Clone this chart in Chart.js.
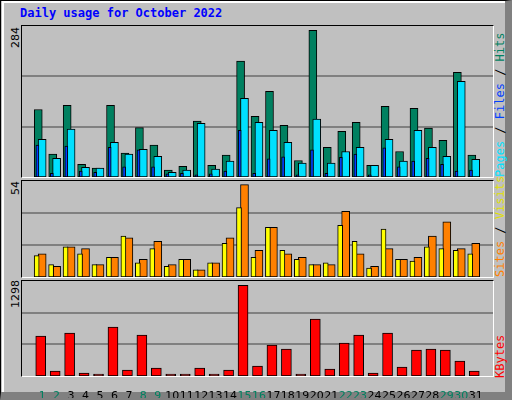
<!DOCTYPE html>
<html>
<head>
<meta charset="utf-8">
<script src="https://cdn.jsdelivr.net/npm/chart.js@4.4.0/dist/chart.umd.min.js"></script>
<style>
  body { margin: 0; background: #c0c0c0; }
  #frame { position: absolute; left: 0; top: 0; width: 512px; height: 400px; background: #c0c0c0;
           border-left: 1px solid #000; border-top: 1px solid #000; border-right: 7px solid #808080; border-bottom: 8px solid #808080;
           box-sizing: border-box; font-family: "DejaVu Sans Mono", monospace; }
  #inner { position: absolute; left: 1px; top: 0; right: 0; bottom: 0; border-left: 2px solid #fff; border-top: 2px solid #fff; }
  .panel { position: absolute; left: 20px; width: 471px; border-top: 1px solid #000; border-left: 1px solid #000;
           border-right: 1px solid #fff; border-bottom: 1px solid #fff; }
  .panel canvas { position: absolute; left: 0; top: 0; }
  .rot { position: absolute; transform-origin: 0 0; transform: rotate(-90deg); white-space: nowrap; font-size: 12px; line-height: 13px; }
  #title { position: absolute; left: 19px; top: 5px; color: #0000ff; font-weight: bold; font-size: 12px; }
</style>
</head>
<body>
<div id="frame"><div id="inner"></div>
  <div id="title">Daily usage for October 2022</div>
  <div class="panel" style="top:24px;height:151px"><canvas id="c1"></canvas></div>
  <div class="panel" style="top:179px;height:96px"><canvas id="c2"></canvas></div>
  <div class="panel" style="top:279px;height:95px;"><canvas id="c3"></canvas></div>
  <div class="rot" style="left:8px;top:47px;font-family:'DejaVu Sans';font-size:11px">284</div>
  <div class="rot" style="left:8px;top:194px;font-family:'DejaVu Sans';font-size:11px">54</div>
  <div class="rot" style="left:8px;top:307px;font-family:'DejaVu Sans';font-size:11px">1298</div>
  <div class="rot" style="left:493px;top:176px"><span style="color:#00e0ff">Pages</span> / <span style="color:#0040ff">Files</span> / <span style="color:#008060">Hits</span></div>
  <div class="rot" style="left:493px;top:276px"><span style="color:#ff8000">Sites</span> / <span style="color:#e0e000">Visits</span></div>
  <div class="rot" style="left:493px;top:377px"><span style="color:#ff0000">KBytes</span></div>
</div>
<script>
const days = [1,2,3,4,5,6,7,8,9,10,11,12,13,14,15,16,17,18,19,20,21,22,23,24,25,26,27,28,29,30,31];
const weekends = [1,2,8,9,15,16,22,23,29,30];
const hits   = [127,43,135,24,17,135,45,93,60,13,20,105,22,41,218,114,161,97,31,276,56,86,103,22,133,48,129,92,69,197,41];
const pages  = [71,35,90,18,17,65,43,52,39,9,13,101,15,30,148,103,88,65,26,109,26,48,56,22,71,30,88,56,39,180,33];
const files  = [60,7,58,11,9,56,19,51,19,6,7,4,6,11,88,7,34,38,4,51,7,37,43,4,55,19,30,35,24,11,13];
const visits = [12,7,17,13,7,11,23,8,16,6,10,4,8,19,39,11,28,15,10,7,8,29,20,5,27,10,9,17,16,15,13];
const sites  = [13,6,17,16,7,11,22,10,20,7,10,4,8,22,52,15,28,13,11,7,7,37,13,6,16,10,11,23,31,16,19];
const kbytes = [545,68,586,41,27,667,82,558,109,27,27,109,27,82,1240,136,422,368,27,776,95,449,558,41,586,123,354,368,354,204,68];
const maxes = [284, 54, 1298];

const pts = (arr, off) => arr.map((v, i) => ({ x: days[i] + off, y: v }));

function bar(label, arr, off, color, w) {
  return { label, data: pts(arr, off), backgroundColor: color, borderColor: '#000', borderWidth: 1,
           borderSkipped: false, barThickness: w };
}

function makeChart(id, h, max, datasets, showX) {
  const c = document.getElementById(id);
  c.width = 471; c.height = h;
  return new Chart(c, {
    type: 'bar',
    data: { datasets },
    options: {
      responsive: false, animation: false, grouped: false,
      layout: { padding: 0 },
      plugins: { legend: { display: false }, tooltip: { enabled: false } },
      scales: {
        x: { type: 'linear', min: 0.13, max: 31.67, display: showX,
             grid: { display: false }, border: { display: false },
             afterBuildTicks: s => { s.ticks = days.map(d => ({ value: d })); },
             afterFit: s => { s.height = showX ? 22 : 0; },
             ticks: { autoSkip: false, maxRotation: 0, padding: 6, font: { family: 'DejaVu Sans', size: 11 },
                      color: ctx => weekends.includes(ctx.tick.value) ? '#008060' : '#000' } },
        y: { min: 0, max, display: true,
             afterBuildTicks: s => { s.ticks = [1, 2].map(k => ({ value: max * k / 3 })); },
             afterFit: s => { s.width = 0; },
             ticks: { display: false }, border: { display: false },
             grid: { color: '#808080', lineWidth: 2, drawTicks: false } }
      }
    }
  });
}

makeChart('c1', 151, maxes[0], [
  bar('Files', files, -0.33, '#0040ff', 3),
  bar('Pages', pages, 0, '#00e0ff', 8),
  bar('Hits', hits, -0.27, '#008060', 8)
], false);

makeChart('c2', 96, maxes[1], [
  bar('Visits', visits, -0.38, '#ffff00', 5),
  bar('Sites', sites, 0, '#ff8000', 8)
], false);

makeChart('c3', 117, maxes[2], [
  bar('KBytes', kbytes, -0.1, '#ff0000', 10)
], true);
</script>
</body>
</html>
